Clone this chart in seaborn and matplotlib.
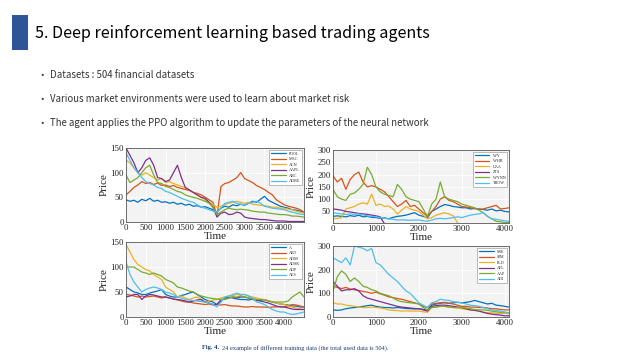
import numpy as np
import pandas as pd
import matplotlib
matplotlib.use("Agg")
import matplotlib.pyplot as plt
from matplotlib.patches import Rectangle
import seaborn as sns

sns.set_theme(style="white")
plt.rcParams['font.family'] = ['Noto Sans', 'DejaVu Sans']

# ---------------- data ----------------
title = "5. Deep reinforcement learning based trading agents"
bullets = ["Datasets : 504 financial datasets",
           "Various market environments were used to learn about market risk",
           "The agent applies the PPO algorithm to update the parameters of the neural network"]
caption_bold = "Fig. 4."
caption_rest = "24 example of different training data (the total used data is 504)."

step = 100
nan = np.nan

tl_names = ["POOL", "MAC", "ACN", "AAPL", "ABC", "ADBE"]
tl_POOL = [45,42,44,40,46,43,48,42,44,40, 41,38,40,36,38,34,36,32,33,30, 31,28,25,20,28,32,30,35,33,36, 34,38,42,40,46,52,44,40,36,32, 30,28,25,24,22,20]
tl_MAC = [55,62,70,75,82,78,80,76,79,74, 75,72,74,70,68,66,64,60,58,55, 50,45,40,12,72,78,80,85,90,100, 88,84,80,74,70,66,60,55,45,40, 35,32,30,28,25,20]
tl_ACN = [125,120,110,100,95,100,95,90,85,88, 80,82,78,75,72,70,65,60,55,50, 45,40,35,30,32,35,38,40,42,40, 38,40,36,35,34,33,32,30,30,28, 28,26,25,22,20,18]
tl_AAPL = [150,135,120,100,110,125,130,115,90,88, 82,85,100,115,90,70,65,60,55,50, 48,40,30,10,18,20,15,16,20,18, 10,8,7,6,5,5,4,3,2,2, 2,1,1,1,1,1]
tl_ABC = [95,80,85,90,100,110,115,95,80,78, 72,70,66,62,60,55,52,50,48,45, 42,38,30,15,20,25,28,26,25,26, 25,24,22,21,20,20,18,17,16,15, 15,14,12,12,11,10]
tl_ADBE = [140,125,110,100,90,82,78,75,70,68, 62,60,56,52,48,45,42,40,35,30, 28,25,22,20,28,38,40,42,38,36, 35,38,40,42,38,32,30,28,27,26, 25,22,20,18,16,15]

tr_names = ["WY", "WHR", "UAA", "ZTS", "WYNN", "TROW"]
tr_WY = [30,32,30,28,33,30,35,28,30,26, 25,22,24,20,26,30,32,35,40,45, 35,30,25,50,60,70,78,75,70,68, 65,65,60,62,60,58,55,60,52,55, 50,48]
tr_WHR = [195,170,185,140,180,200,210,170,150,155, 150,140,130,110,90,70,80,95,70,75, 60,45,30,50,70,100,110,95,90,80, 70,68,65,62,58,60,65,70,75,60, 62,65]
tr_UAA = [20,22,25,60,65,70,80,85,80,120, 75,80,70,72,60,40,55,70,60,55, 50,35,20,25,35,40,45,40,32,5, nan,nan,nan,nan,nan,nan,nan,nan,nan,nan, nan,nan]
tr_ZTS = [60,58,55,50,48,45,42,40,38,35, 32,28,0,nan,nan,nan,nan,nan,nan,nan, nan,nan,nan,nan,nan,nan,nan,nan,nan,nan, nan,nan,nan,nan,nan,nan,nan,nan,nan,nan, nan,nan]
tr_WYNN = [140,110,100,95,120,125,140,160,230,200, 150,130,120,115,110,160,140,110,100,95, 90,60,30,80,100,170,110,100,95,90, 80,75,70,65,55,45,30,20,10,8, 5,5]
tr_TROW = [45,42,40,38,40,38,40,36,32,30, 28,25,22,20,18,15,16,15,14,15, 15,12,10,15,20,22,20,22,25,28, 25,30,35,38,40,45,30,20,18,15, 12,10]

bl_names = ["A", "ABT", "ADM", "ADSK", "ADP", "AES"]
bl_A = [60,55,50,48,45,45,48,50,52,55, 45,42,40,40,43,45,48,50,45,40, 35,32,30,25,32,38,40,38,36,35, 35,34,36,35,33,35,32,30,28,26, 25,24,22,22,20,20]
bl_ABT = [45,44,42,40,42,40,41,42,40,38, 40,38,36,34,32,30,30,28,27,26, 25,26,24,25,24,25,23,22,22,21, 20,20,21,20,20,20,19,20,20,21, 20,22,25,24,22,20]
bl_ADM = [145,130,115,105,100,95,92,85,80,75, 60,55,50,40,42,38,35,38,40,35, 30,32,34,35,38,40,42,43,45,44, 45,42,40,38,36,35,33,30,28,26, 25,22,20,18,16,15]
bl_ADSK = [40,42,45,45,35,42,45,44,42,40, 40,38,36,35,34,32,30,32,34,35, 30,28,25,25,35,36,38,40,38,40, 40,38,35,33,32,30,28,25,22,20, 20,18,16,15,15,15]
bl_ADP = [100,100,100,95,90,88,85,88,85,82, 75,72,68,60,58,55,52,50,45,42, 40,38,37,36,35,35,38,40,40,42, 40,38,36,35,35,34,32,30,30,30, 30,32,40,45,50,40]
bl_AES = [110,85,70,60,50,55,58,60,58,55, 50,48,45,40,38,35,34,33,32,31, 30,28,25,20,30,40,42,45,48,45, 45,42,38,30,28,25,20,15,12,10, 10,7,5,6,8,10]

br_names = ["SRE", "SJM", "PLD", "AFL", "AAP", "ADI"]
br_SRE = [30,28,30,35,38,40,42,45,48,50, 45,42,40,40,38,40,38,36,35,34, 35,32,30,50,55,58,60,58,60,62, 60,62,65,70,65,60,55,58,50,48, 45,42]
br_SJM = [130,125,120,125,118,115,112,108,105,100, 105,98,92,85,82,78,75,70,65,60, 55,45,40,55,58,60,62,58,55,50, 45,45,42,42,40,40,38,35,35,32, 30,30]
br_PLD = [60,55,55,50,48,45,42,40,40,42, 40,38,35,30,28,27,25,26,25,25, 25,22,20,40,42,45,45,42,40,38, 35,32,30,28,25,20,18,18,16,15, 15,14]
br_AFL = [150,130,110,115,115,120,110,90,80,75, 70,65,60,55,50,45,42,40,38,36, 35,30,25,45,48,50,50,48,45,42, 40,35,30,28,25,20,15,12,10,8, 5,5]
br_AAP = [110,170,195,180,150,165,150,130,125,115, 110,100,95,90,80,70,65,62,60,58, 55,40,30,40,42,45,45,42,40,40, 40,38,35,32,30,30,28,25,22,20, 20,18]
br_ADI = [250,240,230,250,220,300,295,290,280,290, 230,220,200,180,165,150,130,110,100,80, 60,50,40,60,65,75,72,70,65,62, 60,55,50,48,45,40,35,30,28,25, 20,18]

matlab_colors = ["#0072BD", "#D95319", "#EDB120", "#7E2F8E", "#77AC30", "#4DBEEE"]

panels = [
    (tl_names, [tl_POOL, tl_MAC, tl_ACN, tl_AAPL, tl_ABC, tl_ADBE], (0, 4500), (0, 150),
     [0, 500, 1000, 1500, 2000, 2500, 3000, 3500, 4000], [0, 50, 100, 150],
     [126, 148, 304, 222]),
    (tr_names, [tr_WY, tr_WHR, tr_UAA, tr_ZTS, tr_WYNN, tr_TROW], (0, 4100), (3, 300),
     [0, 1000, 2000, 3000, 4000], [50, 100, 150, 200, 250, 300],
     [333, 150, 509, 223]),
    (bl_names, [bl_A, bl_ABT, bl_ADM, bl_ADSK, bl_ADP, bl_AES], (0, 4500), (0, 150),
     [0, 500, 1000, 1500, 2000, 2500, 3000, 3500, 4000], [0, 50, 100, 150],
     [126, 242, 304, 317]),
    (br_names, [br_SRE, br_SJM, br_PLD, br_AFL, br_AAP, br_ADI], (0, 4100), (0, 300),
     [0, 1000, 2000, 3000, 4000], [0, 100, 200, 300],
     [333, 246, 509, 317]),
]

W, H = 640, 360
fig = plt.figure(figsize=(6.4, 3.6), dpi=100)
fig.patch.set_facecolor("white")

# title bar
fig.patches.append(Rectangle((12 / W, 1 - 50 / H), 16 / W, 35 / H, transform=fig.transFigure,
                             facecolor="#2E5597", edgecolor="none"))
fig.text(35 / W, 1 - 33 / H, title, fontsize=11.6, color="black", va="center", ha="left",
         fontweight="medium", family=["Noto Sans CJK KR", "DejaVu Sans"])
for i, b in enumerate(bullets):
    y = 1 - (75 + 24 * i) / H
    fig.text(40 / W, y, "•", fontsize=6.5, va="center", ha="left", color="#333333")
    fig.text(50 / W, y, b, fontsize=6.95, va="center", ha="left", color="#333333",
             family=["Noto Sans CJK KR", "DejaVu Sans"])

serif = ["Liberation Serif", "DejaVu Serif"]
for names, series, xlim, ylim, xt, yt, (x0, y0, x1, y1) in panels:
    ax = fig.add_axes([x0 / W, 1 - y1 / H, (x1 - x0) / W, (y1 - y0) / H])
    ax.set_facecolor("#f3f3f3")
    rows = []
    for n, s in zip(names, series):
        for k, v in enumerate(s):
            rows.append({"Time": k * step, "Price": v, "Ticker": n})
    df = pd.DataFrame(rows)
    sns.lineplot(data=df, x="Time", y="Price", hue="Ticker", hue_order=names,
                 palette=matlab_colors, linewidth=0.9, ax=ax, legend=True)
    ax.set_xlim(*xlim)
    ax.set_ylim(*ylim)
    ax.set_xticks(xt)
    ax.set_yticks(yt)
    ax.grid(True, color="white", linewidth=0.6)
    ax.set_axisbelow(True)
    for sp in ax.spines.values():
        sp.set_color("#555555")
        sp.set_linewidth(0.6)
    ax.tick_params(axis="both", labelsize=6.4, length=2, width=0.5, direction="in",
                   pad=1.5, colors="#333333", labelcolor="#222222")
    for lab in ax.get_xticklabels() + ax.get_yticklabels():
        lab.set_family(serif)
    ax.set_xlabel("Time", fontsize=8, family=serif, labelpad=0, color="#222222")
    ax.set_ylabel("Price", fontsize=8, family=serif, labelpad=1, color="#222222")
    leg = ax.legend(loc="upper right", frameon=True, framealpha=1,
                    handlelength=3.5, borderpad=0.4, labelspacing=0.35,
                    prop={"family": serif, "size": 3})
    leg.get_frame().set_edgecolor("#888888")
    leg.get_frame().set_linewidth(0.4)
    leg.get_frame().set_boxstyle("square", pad=0)

t1 = fig.text(202 / W, 1 - 348 / H, caption_bold, fontsize=4.6, fontweight="bold",
              family=serif, va="center", ha="left", color="#1a3a6e")
fig.canvas.draw()
bb = t1.get_window_extent(renderer=fig.canvas.get_renderer())
fig.text((bb.x1 + 3) / W, 1 - 348 / H, caption_rest, fontsize=4.6, family=serif,
         va="center", ha="left", color="#1a3a6e")

fig.savefig("out.png", dpi=100)
